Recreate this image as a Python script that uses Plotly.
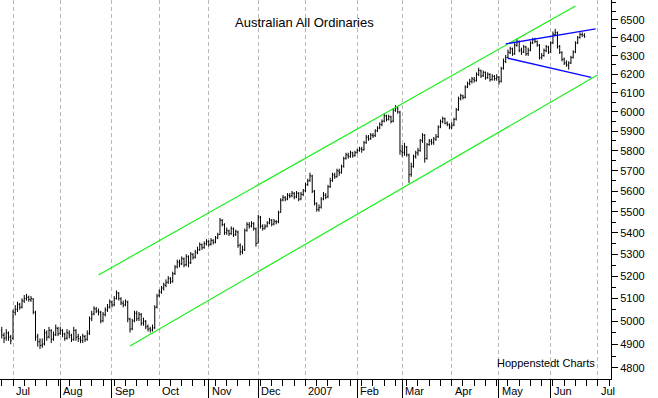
import math
import pandas as pd
import plotly.graph_objects as go

# ---------------- data ----------------
first_day = "2006-06-26"   # first trading bar (weekdays only)

opens = [
    4960, 4938, 4928, 4948, 4932, 4925, 5038, 5052, 5072, 5062,
    5088, 5098, 5105, 5093, 5098, 5038, 4935, 4912, 4896, 4902,
    4948, 4932, 4958, 4922, 4942, 4968, 4947, 4958, 4943, 4927,
    4948, 4938, 4922, 4958, 4932, 4923, 4917, 4933, 4922, 4947,
    5012, 5032, 5053, 5043, 5038, 5002, 5028, 5048, 5062, 5083,
    5072, 5098, 5123, 5098, 5078, 5072, 5083, 5008, 4967, 5002,
    5033, 5012, 5028, 4992, 4998, 4977, 4967, 4962, 4972, 5062,
    5112, 5128, 5147, 5158, 5172, 5188, 5177, 5212, 5242, 5263,
    5257, 5278, 5252, 5288, 5262, 5298, 5287, 5308, 5322, 5343,
    5332, 5348, 5358, 5347, 5363, 5357, 5377, 5392, 5458, 5438,
    5402, 5408, 5397, 5418, 5392, 5403, 5342, 5312, 5322, 5412,
    5438, 5432, 5443, 5418, 5352, 5473, 5432, 5422, 5432, 5447,
    5458, 5442, 5453, 5452, 5497, 5557, 5568, 5562, 5578, 5577,
    5588, 5572, 5588, 5562, 5583, 5602, 5632, 5652, 5673, 5598,
    5538, 5512, 5522, 5562, 5578, 5572, 5622, 5652, 5678, 5672,
    5698, 5692, 5722, 5762, 5778, 5772, 5788, 5777, 5792, 5802,
    5808, 5807, 5842, 5868, 5862, 5878, 5877, 5902, 5917, 5933,
    5952, 5978, 5962, 5973, 5952, 6008, 6018, 5998, 5795, 5792,
    5818, 5778, 5682, 5722, 5772, 5788, 5802, 5852, 5878, 5762,
    5832, 5848, 5842, 5858, 5872, 5922, 5948, 5963, 5942, 5933,
    5922, 5932, 5962, 6012, 6068, 6083, 6077, 6132, 6148, 6162,
    6173, 6167, 6198, 6218, 6192, 6208, 6182, 6198, 6172, 6188,
    6177, 6183, 6162, 6232, 6268, 6292, 6318, 6338, 6312, 6358,
    6378, 6332, 6322, 6348, 6312, 6332, 6372, 6388, 6378, 6358,
    6292, 6302, 6328, 6348, 6322, 6372, 6418, 6428, 6352, 6318,
    6282, 6262, 6248, 6262, 6292, 6322, 6372, 6402, 6418, 6413,
]
highs = [
    4975, 4950, 4965, 4955, 4940, 5050, 5070, 5085, 5080, 5100,
    5115, 5120, 5112, 5110, 5100, 5045, 4945, 4925, 4925, 4965,
    4960, 4975, 4965, 4955, 4985, 4975, 4975, 4965, 4950, 4965,
    4960, 4945, 4975, 4965, 4945, 4935, 4945, 4940, 4960, 5020,
    5045, 5065, 5062, 5055, 5045, 5040, 5060, 5075, 5095, 5090,
    5110, 5135, 5128, 5105, 5090, 5095, 5090, 5015, 5010, 5045,
    5045, 5040, 5035, 5015, 5005, 4985, 4975, 4985, 5070, 5120,
    5140, 5155, 5170, 5185, 5200, 5195, 5220, 5250, 5275, 5275,
    5290, 5285, 5300, 5295, 5310, 5305, 5320, 5335, 5355, 5350,
    5360, 5370, 5365, 5375, 5370, 5385, 5400, 5470, 5465, 5445,
    5425, 5415, 5430, 5425, 5415, 5410, 5350, 5340, 5420, 5450,
    5450, 5455, 5450, 5425, 5485, 5480, 5440, 5440, 5455, 5470,
    5465, 5465, 5460, 5505, 5565, 5580, 5575, 5590, 5590, 5600,
    5595, 5600, 5595, 5595, 5610, 5640, 5660, 5690, 5680, 5605,
    5545, 5535, 5570, 5595, 5590, 5630, 5665, 5690, 5690, 5710,
    5710, 5730, 5770, 5790, 5790, 5800, 5795, 5800, 5810, 5820,
    5820, 5850, 5880, 5880, 5890, 5890, 5910, 5925, 5945, 5960,
    5990, 5985, 5985, 5980, 6020, 6035, 6030, 6005, 5830, 5840,
    5825, 5785, 5740, 5780, 5800, 5815, 5860, 5890, 5885, 5840,
    5860, 5860, 5870, 5885, 5930, 5960, 5975, 5970, 5950, 5940,
    5945, 5970, 6020, 6080, 6095, 6090, 6140, 6160, 6175, 6185,
    6185, 6210, 6235, 6225, 6220, 6215, 6210, 6205, 6200, 6195,
    6200, 6190, 6240, 6285, 6305, 6335, 6350, 6345, 6375, 6395,
    6385, 6345, 6360, 6355, 6345, 6380, 6400, 6400, 6385, 6365,
    6315, 6340, 6360, 6355, 6380, 6435, 6450, 6435, 6360, 6325,
    6290, 6275, 6270, 6300, 6330, 6380, 6410, 6430, 6430, 6425,
]
lows = [
    4925, 4905, 4915, 4915, 4900, 4920, 5025, 5040, 5050, 5055,
    5080, 5090, 5085, 5085, 5030, 4915, 4890, 4880, 4885, 4895,
    4915, 4925, 4905, 4915, 4935, 4935, 4940, 4930, 4915, 4920,
    4925, 4910, 4915, 4915, 4910, 4905, 4905, 4910, 4915, 4940,
    5000, 5025, 5035, 5025, 4990, 4995, 5020, 5040, 5055, 5060,
    5065, 5095, 5090, 5070, 5060, 5065, 4995, 4950, 4960, 4995,
    5000, 5000, 4980, 4980, 4965, 4955, 4950, 4955, 4965, 5055,
    5105, 5120, 5135, 5150, 5165, 5165, 5170, 5205, 5235, 5240,
    5250, 5240, 5245, 5240, 5255, 5275, 5280, 5300, 5315, 5320,
    5325, 5340, 5335, 5340, 5345, 5350, 5370, 5390, 5430, 5390,
    5390, 5385, 5390, 5380, 5385, 5330, 5295, 5300, 5315, 5405,
    5420, 5425, 5410, 5335, 5350, 5420, 5410, 5415, 5425, 5440,
    5430, 5435, 5440, 5445, 5495, 5550, 5550, 5555, 5565, 5570,
    5560, 5565, 5550, 5555, 5575, 5595, 5625, 5645, 5590, 5530,
    5500, 5500, 5515, 5555, 5560, 5565, 5615, 5645, 5660, 5665,
    5675, 5685, 5715, 5755, 5760, 5765, 5765, 5770, 5785, 5795,
    5790, 5800, 5835, 5850, 5855, 5865, 5870, 5895, 5910, 5925,
    5945, 5950, 5955, 5940, 5945, 6000, 5990, 5780, 5770, 5775,
    5770, 5640, 5670, 5715, 5760, 5775, 5795, 5840, 5740, 5755,
    5825, 5830, 5830, 5850, 5865, 5915, 5940, 5935, 5925, 5910,
    5910, 5925, 5955, 6005, 6060, 6065, 6070, 6125, 6140, 6150,
    6155, 6160, 6190, 6180, 6185, 6170, 6175, 6160, 6165, 6165,
    6165, 6145, 6155, 6225, 6260, 6285, 6310, 6300, 6305, 6350,
    6320, 6305, 6315, 6300, 6300, 6325, 6365, 6370, 6350, 6280,
    6280, 6295, 6320, 6310, 6315, 6365, 6410, 6340, 6310, 6270,
    6250, 6240, 6225, 6255, 6285, 6315, 6365, 6395, 6405, 6400,
]
closes = [
    4940, 4925, 4950, 4930, 4915, 5040, 5050, 5075, 5060, 5090,
    5100, 5105, 5095, 5100, 5040, 4930, 4910, 4895, 4900, 4950,
    4930, 4960, 4920, 4940, 4970, 4945, 4960, 4945, 4925, 4950,
    4940, 4920, 4960, 4930, 4925, 4915, 4935, 4920, 4945, 5010,
    5030, 5055, 5045, 5040, 5000, 5030, 5050, 5060, 5085, 5070,
    5100, 5125, 5100, 5080, 5070, 5085, 5010, 4965, 5000, 5035,
    5010, 5030, 4990, 5000, 4975, 4965, 4960, 4970, 5060, 5110,
    5130, 5145, 5160, 5170, 5190, 5175, 5210, 5240, 5265, 5255,
    5280, 5250, 5290, 5260, 5300, 5285, 5310, 5320, 5345, 5330,
    5350, 5360, 5345, 5365, 5355, 5375, 5390, 5460, 5440, 5400,
    5410, 5395, 5420, 5390, 5405, 5340, 5310, 5320, 5410, 5440,
    5430, 5445, 5420, 5350, 5475, 5430, 5420, 5430, 5445, 5460,
    5440, 5455, 5450, 5495, 5555, 5570, 5560, 5580, 5575, 5590,
    5570, 5590, 5560, 5585, 5600, 5630, 5650, 5675, 5600, 5540,
    5510, 5520, 5560, 5580, 5570, 5620, 5650, 5680, 5670, 5700,
    5690, 5720, 5760, 5780, 5770, 5790, 5775, 5790, 5800, 5810,
    5805, 5840, 5870, 5860, 5880, 5875, 5900, 5915, 5935, 5950,
    5980, 5960, 5975, 5950, 6010, 6020, 6000, 5800, 5790, 5820,
    5780, 5680, 5720, 5770, 5790, 5800, 5850, 5880, 5760, 5830,
    5850, 5840, 5860, 5870, 5920, 5950, 5965, 5940, 5935, 5920,
    5930, 5960, 6010, 6070, 6085, 6075, 6130, 6150, 6160, 6175,
    6165, 6200, 6220, 6190, 6210, 6180, 6200, 6170, 6190, 6175,
    6185, 6160, 6230, 6270, 6290, 6320, 6340, 6310, 6360, 6380,
    6330, 6320, 6350, 6310, 6330, 6370, 6390, 6380, 6360, 6290,
    6300, 6330, 6350, 6320, 6370, 6420, 6430, 6350, 6320, 6280,
    6260, 6250, 6260, 6290, 6320, 6370, 6400, 6420, 6415, 6405,
]

# trend channel (green) and triangle (blue) lines: endpoints
channel_upper_dates = ["2006-08-24", "2007-06-18"]
channel_upper_vals = [5205, 6580]
channel_lower_dates = ["2006-09-13", "2007-07-02"]
channel_lower_vals = [4893, 6197]
tri_upper_dates = ["2007-05-04", "2007-06-29"]
tri_upper_vals = [6366, 6450]
tri_lower_dates = ["2007-05-07", "2007-06-27"]
tri_lower_vals = [6287, 6183]

# axis ticks
month_tick_dates = ["2006-07-03", "2006-08-01", "2006-09-01", "2006-10-02",
                    "2006-11-01", "2006-12-01", "2007-01-01", "2007-02-01",
                    "2007-03-01", "2007-04-02", "2007-05-01", "2007-06-01",
                    "2007-07-02"]
month_labels = ["Jul", "Aug", "Sep", "Oct", "Nov", "Dec", "2007", "Feb",
                "Mar", "Apr", "May", "Jun", "Jul"]
y_tick_vals = [4800, 4900, 5000, 5100, 5200, 5300, 5400, 5500, 5600,
               5700, 5800, 5900, 6000, 6100, 6200, 6300, 6400, 6500]
y_tick_text = [str(v) for v in y_tick_vals]

title_text = "Australian All Ordinaries"
credit_text = "Hoppenstedt Charts"

# ---------------- figure ----------------
dates = pd.bdate_range(first_day, periods=len(closes))
FONT = "Liberation Sans, Arial, sans-serif"

fig = go.Figure()
fig.add_trace(go.Ohlc(
    x=dates, open=opens, high=highs, low=lows, close=closes,
    increasing=dict(line=dict(color="black", width=1)),
    decreasing=dict(line=dict(color="black", width=1)),
    tickwidth=0.4, showlegend=False, hoverinfo="skip",
))

green = "#19f019"
blue = "#0a0aff"
for xs, ys, col, w in [(channel_upper_dates, channel_upper_vals, green, 1.2),
                       (channel_lower_dates, channel_lower_vals, green, 1.2),
                       (tri_upper_dates, tri_upper_vals, blue, 1.4),
                       (tri_lower_dates, tri_lower_vals, blue, 1.4)]:
    fig.add_trace(go.Scatter(x=pd.to_datetime(xs), y=ys, mode="lines",
                             line=dict(color=col, width=w),
                             showlegend=False, hoverinfo="skip"))

annotations = []
for d, lab in zip(month_tick_dates, month_labels):
    annotations.append(dict(x=d, y=0, xref="x", yref="paper", text=lab,
                            showarrow=False, xanchor="left", yanchor="top",
                            xshift=1, yshift=-4,
                            font=dict(family=FONT, size=11, color="black")))
annotations.append(dict(x=0.499, y=0.94, xref="paper", yref="paper",
                        text=title_text, showarrow=False,
                        xanchor="center", yanchor="middle",
                        font=dict(family=FONT, size=13, color="black")))
annotations.append(dict(x=0.894, y=0.042, xref="paper", yref="paper",
                        text=credit_text, showarrow=False,
                        xanchor="center", yanchor="middle",
                        font=dict(family=FONT, size=11, color="black")))

weekly = pd.date_range("2006-06-19", "2007-07-16", freq="W-MON")
minor_y = list(range(4750, 6651, 50))

fig.update_layout(
    template="none",
    width=658, height=398,
    margin=dict(l=0, r=47, t=0, b=19, pad=0),
    paper_bgcolor="white", plot_bgcolor="white",
    font=dict(family=FONT, size=11, color="black"),
    showlegend=False,
    hovermode=False,
    annotations=annotations,
    xaxis=dict(
        type="date",
        rangebreaks=[dict(bounds=["sat", "mon"])],
        range=["2006-06-23 05:17", "2007-07-09 19:12"],
        rangeslider=dict(visible=False),
        tickmode="array", tickvals=month_tick_dates,
        ticktext=[""] * len(month_tick_dates),
        showticklabels=False,
        ticks="outside", ticklen=19, tickwidth=1, tickcolor="black",
        showgrid=True, gridcolor="#b8b8b8", griddash="4px,3px", gridwidth=1,
        showline=True, linecolor="black", linewidth=1,
        zeroline=False, automargin=False,
        minor=dict(tickmode="array", tickvals=list(weekly), ticks="outside",
                   ticklen=6, tickcolor="black", tickwidth=1, showgrid=False),
    ),
    yaxis=dict(
        type="log", side="right",
        range=[math.log10(4754), math.log10(6614)],
        tickmode="array", tickvals=y_tick_vals, ticktext=y_tick_text,
        ticks="outside", ticklen=6, tickwidth=1, tickcolor="black",
        showline=True, linecolor="black", linewidth=1,
        showgrid=False, zeroline=False, automargin=False,
        tickfont=dict(family=FONT, size=11, color="black"),
        minor=dict(tickmode="array", tickvals=minor_y, ticks="outside",
                   ticklen=4, tickcolor="black", tickwidth=1, showgrid=False),
    ),
)

fig.write_html(
    "out.html",
    config={"displayModeBar": False, "staticPlot": True},
    post_script="document.body.style.margin='0';document.body.style.padding='0';",
)
